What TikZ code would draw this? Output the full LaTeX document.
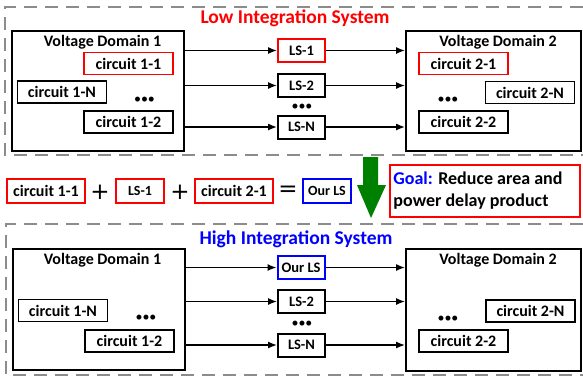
\documentclass[tikz,border=0pt]{standalone}
\usepackage{fontspec}
\setmainfont{Carlito}
\newfontfamily\symfont{DejaVu Sans}
\usetikzlibrary{arrows.meta}
\definecolor{dgray}{RGB}{140,140,140}
\definecolor{arrgreen}{RGB}{0,128,0}
\definecolor{myred}{RGB}{255,0,0}
\definecolor{myblue}{RGB}{0,0,255}
\begin{document}
\begin{tikzpicture}[x=1pt,y=-1pt,
  dashbox/.style={draw=dgray,line width=2.3pt,dash pattern=on 13pt off 8pt},
  vdbox/.style={draw,line width=2pt,inner sep=0pt},
  vdlabel/.style={inner sep=0pt,font=\fontsize{16}{19}\selectfont\bfseries},
  title/.style={inner sep=0pt,font=\fontsize{19.5}{22}\selectfont\bfseries},
  cbox/.style={draw,line width=1.5pt,minimum width=89pt,minimum height=22pt,inner sep=0pt,font=\fontsize{16}{19}\selectfont\bfseries},
  rcbox/.style={cbox,draw=myred,line width=1.3pt},
  lsbox/.style={draw,line width=2pt,minimum width=47pt,minimum height=23pt,inner sep=0pt,font=\fontsize{14.5}{17}\selectfont\bfseries},
  mbox/.style={draw=myred,line width=1.3pt,minimum width=78pt,minimum height=24pt,inner sep=0pt,font=\fontsize{16}{19}\selectfont\bfseries},
  mls/.style={draw,line width=2pt,minimum width=48pt,minimum height=24pt,inner sep=0pt,font=\fontsize{14}{17}\selectfont\bfseries},
  dots/.style={inner sep=0pt,font=\fontsize{14}{14}\selectfont},
  opsym/.style={inner sep=0pt,font=\fontsize{23}{24}\selectfont\symfont},
  arr/.style={line width=1.3pt,-{Latex[length=9pt,width=7pt]}}
]
\useasboundingbox (0,0) rectangle (583,378);

% ---------- top section ----------
\draw[dashbox] (583,7) -| (5,155) -- (583,155);
\node[title,text=myred] (ttop) at (295,18) {Low Integration System};

\node[vdbox,minimum width=172pt,minimum height=120pt] (vd1) at (98,91) {};
\node[vdlabel] (vd1l) at (102.5,42) {Voltage Domain 1};
\node[rcbox] (c11) at (128.5,63.5) {circuit 1-1};
\node[cbox] (c1n) at (62,92) {circuit 1-N};
\node[cbox] (c12) at (128.5,122) {circuit 1-2};
\node[dots] (d1) at (144.5,100) {•••};

\node[lsbox,draw=myred] (ls1) at (301.5,50.5) {LS-1};
\node[lsbox] (ls2) at (301.5,85.5) {LS-2};
\node[lsbox] (lsn) at (301.5,127) {LS-N};
\node[dots] (dls) at (302,107) {•••};

\node[vdbox,minimum width=175pt,minimum height=120pt] (vd2) at (493.5,91) {};
\node[vdlabel] (vd2l) at (498,42) {Voltage Domain 2};
\node[rcbox] (c21) at (463.5,63.5) {circuit 2-1};
\node[cbox] (c2n) at (530,92.5) {circuit 2-N};
\node[cbox] (c22) at (463.5,122) {circuit 2-2};
\node[dots] (d2) at (448,100) {•••};

\foreach \n in {ls1,ls2,lsn}{
  \draw[arr] (\n.west -| vd1.east) -- (\n.west);
  \draw[arr] (\n.east) -- (\n.east -| vd2.west);
}

% ---------- middle row ----------
\node[mbox] (m11) at (46,191) {circuit 1-1};
\node[opsym] (p1) at (100,192) {+};
\node[mls,draw=myred] (mls1) at (140,191) {LS-1};
\node[opsym] (p2) at (180,192) {+};
\node[mbox] (m21) at (234,191) {circuit 2-1};
\node[opsym] (eq) at (288,191) {=};
\node[mls,draw=myblue] (mour) at (327,191) {Our LS};

\fill[arrgreen] (363,157) -- (378,157) -- (378,185) -- (386,185) -- (371,218) -- (357,185) -- (363,185) -- cycle;

\node[draw=myred,line width=1.5pt,minimum width=190pt,minimum height=52pt,inner sep=0pt] (goal) at (485,191) {};
\node[anchor=west,inner sep=0pt,align=left,font=\fontsize{18}{22}\selectfont\bfseries] (goalt) at ([xshift=4pt]goal.west)
  {\textcolor{myblue}{Goal:} Reduce area and\\power delay product};

% ---------- bottom section ----------
\draw[dashbox] (583,224) -| (6,375) -- (583,375);
\node[title,text=myblue] (tbot) at (296,239) {High Integration System};

\node[vdbox,minimum width=172pt,minimum height=121pt] (bvd1) at (98.5,309.5) {};
\node[vdlabel] (bvd1l) at (102.5,260) {Voltage Domain 1};
\node[cbox] (bc1n) at (63,310.5) {circuit 1-N};
\node[cbox] (bc12) at (129.5,341) {circuit 1-2};
\node[dots] (bd1) at (146,318) {•••};

\node[lsbox,draw=myblue] (bour) at (301,267.5) {Our LS};
\node[lsbox] (bls2) at (301.5,301.5) {LS-2};
\node[lsbox] (blsn) at (301.5,345) {LS-N};
\node[dots] (bdls) at (302,324) {•••};

\node[vdbox,minimum width=175pt,minimum height=122pt] (bvd2) at (493.5,310) {};
\node[vdlabel] (bvd2l) at (498,260) {Voltage Domain 2};
\node[cbox] (bc2n) at (530.5,311) {circuit 2-N};
\node[cbox] (bc22) at (463.5,341) {circuit 2-2};
\node[dots] (bd2) at (448,319) {•••};

\foreach \n in {bour,bls2,blsn}{
  \draw[arr] (\n.west -| bvd1.east) -- (\n.west);
  \draw[arr] (\n.east) -- (\n.east -| bvd2.west);
}
\end{tikzpicture}
\end{document}
